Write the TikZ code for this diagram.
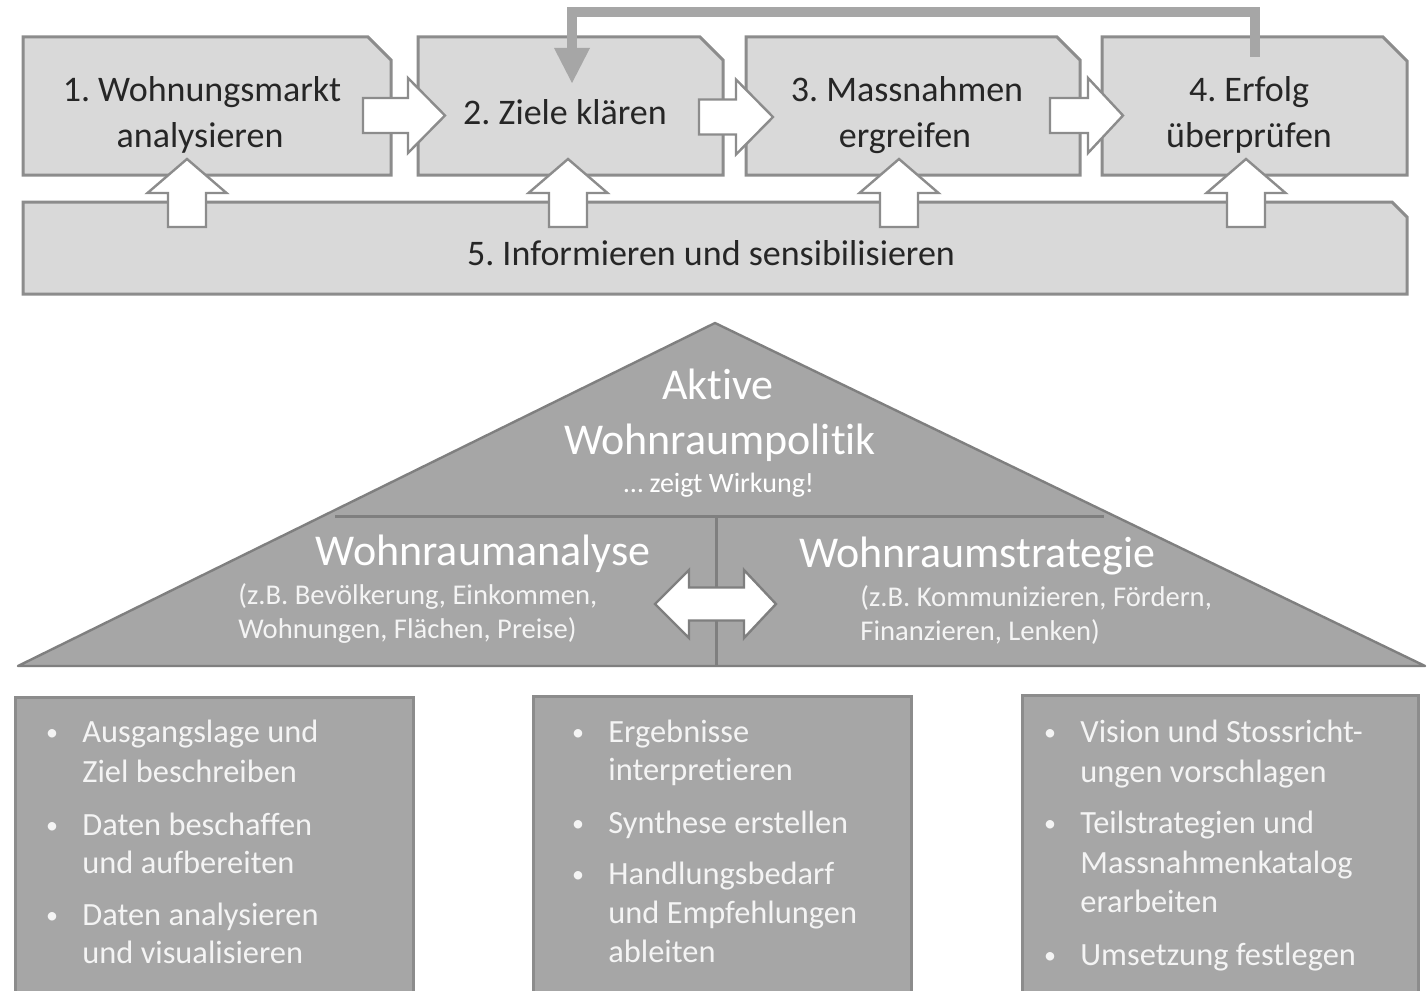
\documentclass[tikz,border=0pt]{standalone}
\usepackage{fontspec}
\setmainfont{Carlito}[Ligatures={NoCommon},RawFeature=-liga]
\frenchspacing
\definecolor{boxfill}{HTML}{D9D9D9}
\definecolor{boxline}{HTML}{8C8C8C}
\definecolor{darkfill}{HTML}{A6A6A6}
\definecolor{darkline}{HTML}{7F7F7F}
\definecolor{txtdark}{HTML}{262626}
\definecolor{txtlight}{HTML}{F4F4F4}
\begin{document}
\begin{tikzpicture}[x=0.5pt,y=-0.5pt,
  procbox/.style={fill=boxfill,draw=boxline,line width=1.5pt,line join=miter},
  blockarrow/.style={fill=white,draw=boxline,line width=1.2pt,line join=miter},
  feedback/.style={draw=darkfill,line width=5pt},
  pyramid/.style={fill=darkfill,draw=darkline,line width=1.2pt,line join=round},
  divider/.style={draw=darkline,line width=1.5pt},
  listbox/.style={fill=darkfill,draw=boxline,line width=1.5pt},
  toptext/.style={inner sep=0pt,anchor=base,text=txtdark,font=\fontsize{18}{22}\selectfont},
  bigtext/.style={inner sep=0pt,anchor=base,text=white,font=\fontsize{22}{26}\selectfont},
  subtext/.style={inner sep=0pt,anchor=base west,text=txtlight,font=\fontsize{14.3}{17}\selectfont},
  listtext/.style={inner sep=0pt,anchor=base west,text=txtlight,font=\fontsize{16.2}{19.5}\selectfont},
  bullet/.style={inner sep=0pt,anchor=base,text=txtlight,font=\fontsize{12}{14}\selectfont}
]
\useasboundingbox (0,0) rectangle (1427,990);
\clip (0,0) rectangle (1427,990);
\fill[white] (0,0) rectangle (1427,990);

% process boxes (cut north-east corner)
\newcommand{\chbox}[5]{\path[procbox] (#1,#2) -- ({#3-#5},#2) -- (#3,{#2+#5}) -- (#3,#4) -- (#1,#4) -- cycle;}
\chbox{23}{37}{391}{175}{23}
\chbox{418}{37}{723}{175}{23}
\chbox{746}{37}{1080}{175}{23}
\chbox{1102}{37}{1407}{175}{24}
\chbox{23}{202}{1407}{294}{15}

% feedback connector from step 4 back to step 2
\coordinate (fbStart) at (1255,57);
\coordinate (fbEnd) at (572,52);
\draw[feedback] (fbStart) -- (1255,12) -- (572,12) -- (fbEnd);
\fill[darkfill] (554,48) -- (590,48) -- (572,83) -- cycle;

% right block arrows
\newcommand{\rarrow}[4]{\path[blockarrow] (#1,{#4-17.5}) -- (#2,{#4-17.5}) -- (#2,{#4-37.5}) -- (#3,#4) -- (#2,{#4+37.5}) -- (#2,{#4+17.5}) -- (#1,{#4+17.5}) -- cycle;}
\rarrow{363}{408}{445}{115.5}
\rarrow{699}{736}{773}{117}
\rarrow{1050}{1088}{1123}{115.5}

% up block arrows
\newcommand{\uarrow}[1]{\path[blockarrow] ({#1-19},227) -- ({#1-19},193) -- ({#1-39.5},193) -- (#1,159) -- ({#1+39.5},193) -- ({#1+19},193) -- ({#1+19},227) -- cycle;}
\uarrow{187}
\uarrow{568}
\uarrow{899}
\uarrow{1246}

% texts of the process
\node[toptext] (t1a) at (202,102) {1. Wohnungsmarkt};
\node[toptext] (t1b) at (200,147) {analysieren};
\node[toptext] (t2) at (565,125) {2. Ziele klären};
\node[toptext] (t3a) at (907,102) {3. Massnahmen};
\node[toptext] (t3b) at (905,147) {ergreifen};
\node[toptext] (t4a) at (1249,102) {4. Erfolg};
\node[toptext] (t4b) at (1249,147) {überprüfen};
\node[toptext] (t5) at (711,265) {5. Informieren und sensibilisieren};

% pyramid
\path[pyramid] (715,323) -- (1425,666) -- (18,666) -- cycle;
\draw[divider] (335,516) -- (1104,516);
\draw[divider] (716,516) -- (716,666);
\path[fill=white,draw=darkline,line width=1.2pt,line join=miter]
  (655,604) -- (689,570) -- (689,587.5) -- (744,587.5) -- (744,570) -- (776,604)
  -- (744,638) -- (744,620.5) -- (689,620.5) -- (689,638) -- cycle;

\node[bigtext] (p1) at (718,399) {Aktive};
\node[bigtext] (p2) at (720,454) {Wohnraumpolitik};
\node[inner sep=0pt,anchor=base,text=white,font=\fontsize{14}{16}\selectfont] (p3) at (719,492) {… zeigt Wirkung!};
\node[bigtext] (wa) at (483,565) {Wohnraumanalyse};
\node[subtext] (wa1) at (238,604) {(z.B. Bevölkerung, Einkommen,};
\node[subtext] (wa2) at (238,638) {Wohnungen, Flächen, Preise)};
\node[bigtext] (ws) at (977,567) {Wohnraumstrategie};
\node[subtext] (ws1) at (860,606) {(z.B. Kommunizieren, Fördern,};
\node[subtext] (ws2) at (860,640) {Finanzieren, Lenken)};

% list boxes
\path[listbox] (15,697) rectangle (413,1010);
\path[listbox] (533,696) rectangle (911,1010);
\path[listbox] (1022,695) rectangle (1418,1010);

\node[bullet] (ab1) at (52,740) {•};
\node[listtext] (a1) at (82,742) {Ausgangslage und};
\node[listtext] (a2) at (82,782) {Ziel beschreiben};
\node[bullet] (ab2) at (52,833) {•};
\node[listtext] (a3) at (82,835) {Daten beschaffen};
\node[listtext] (a4) at (82,873) {und aufbereiten};
\node[bullet] (ab3) at (52,923) {•};
\node[listtext] (a5) at (82,925) {Daten analysieren};
\node[listtext] (a6) at (82,963) {und visualisieren};

\node[bullet] (bb1) at (578,740) {•};
\node[listtext] (b1) at (608,742) {Ergebnisse};
\node[listtext] (b2) at (608,780) {interpretieren};
\node[bullet] (bb2) at (578,831) {•};
\node[listtext] (b3) at (608,833) {Synthese erstellen};
\node[bullet] (bb3) at (578,882) {•};
\node[listtext] (b4) at (608,884) {Handlungsbedarf};
\node[listtext] (b5) at (608,923) {und Empfehlungen};
\node[listtext] (b6) at (608,962) {ableiten};

\node[bullet] (cb1) at (1050,740) {•};
\node[listtext] (c1) at (1080,742) {Vision und Stossricht-};
\node[listtext] (c2) at (1080,782) {ungen vorschlagen};
\node[bullet] (cb2) at (1050,831) {•};
\node[listtext] (c3) at (1080,833) {Teilstrategien und};
\node[listtext] (c4) at (1080,873) {Massnahmenkatalog};
\node[listtext] (c5) at (1080,912) {erarbeiten};
\node[bullet] (cb3) at (1050,963) {•};
\node[listtext] (c6) at (1080,965) {Umsetzung festlegen};
\end{tikzpicture}
\end{document}
